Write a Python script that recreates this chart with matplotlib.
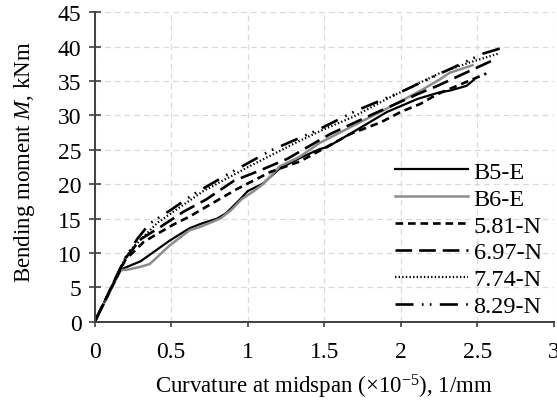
import matplotlib
matplotlib.use("Agg")
import matplotlib.pyplot as plt

plt.rcParams['font.family'] = ['Liberation Serif', 'DejaVu Serif']
plt.rcParams['mathtext.fontset'] = 'custom'
plt.rcParams['mathtext.rm'] = 'Liberation Serif'
plt.rcParams['mathtext.it'] = 'Liberation Serif:italic'
plt.rcParams['lines.scale_dashes'] = False

# Data (curvature x1e-5 1/mm, moment kNm)
b5_x = [0, 0.17, 0.30, 0.49, 0.62, 0.70, 0.80, 0.86, 0.95, 1.00, 1.10, 1.21, 1.34, 1.47, 1.52, 1.69, 1.91, 2.11, 2.26, 2.32, 2.43, 2.48]
b5_y = [0, 7.6, 8.8, 11.8, 13.6, 14.3, 15.0, 15.8, 17.8, 19.0, 20.1, 22.3, 23.8, 25.1, 25.4, 27.6, 30.5, 32.4, 33.4, 33.6, 34.3, 35.2]

b6_x = [0, 0.17, 0.22, 0.30, 0.36, 0.49, 0.62, 0.69, 0.82, 0.89, 0.96, 1.04, 1.10, 1.21, 1.34, 1.47, 1.69, 1.91, 2.13, 2.26, 2.32, 2.47]
b6_y = [0, 7.5, 7.6, 8.0, 8.4, 11.1, 13.3, 13.8, 15.0, 16.2, 17.8, 19.0, 20.0, 22.6, 24.0, 26.0, 28.5, 31.0, 33.6, 35.3, 36.2, 37.3]

n581_x = [0, 0.20, 0.32, 0.41, 0.52, 0.62, 0.72, 0.93, 1.15, 1.34, 1.49, 1.67, 1.87, 2.00, 2.13, 2.24, 2.56]
n581_y = [0, 9.0, 11.6, 12.8, 14.2, 15.3, 16.6, 19.3, 21.8, 23.3, 25.1, 27.3, 29.0, 30.5, 31.7, 33.1, 36.1]

n697_x = [0, 0.20, 0.30, 0.43, 0.58, 0.73, 0.91, 1.08, 1.26, 1.43, 1.54, 1.78, 2.11, 2.24, 2.62]
n697_y = [0, 9.2, 12.0, 13.8, 16.0, 17.8, 20.5, 22.0, 23.7, 25.9, 27.3, 29.8, 33.1, 34.3, 38.2]

n774_x = [0, 0.20, 0.25, 0.41, 0.54, 0.71, 1.02, 1.32, 1.50, 1.69, 1.91, 2.13, 2.26, 2.45, 2.64]
n774_y = [0, 9.3, 10.8, 14.4, 16.4, 19.0, 22.7, 26.1, 28.0, 29.8, 32.4, 34.8, 36.2, 37.7, 39.0]

n829_x = [0, 0.20, 0.28, 0.36, 0.50, 0.65, 0.85, 1.15, 1.45, 1.71, 2.00, 2.25, 2.54, 2.66]
n829_y = [0, 9.3, 12.1, 14.3, 16.3, 18.6, 21.2, 24.9, 27.8, 30.7, 33.4, 36.0, 39.0, 39.8]

labels = ['B5-E', 'B6-E', '5.81-N', '6.97-N', '7.74-N', '8.29-N']
xticks = [0, 0.5, 1, 1.5, 2, 2.5, 3]
xticklabels = ['0', '0.5', '1', '1.5', '2', '2.5', '3']
yticks = list(range(0, 46, 5))

fig = plt.figure(figsize=(5.57, 4.02), dpi=100)
ax = fig.add_axes([0.170, 0.197, 0.824, 0.770])

ax.plot(b5_x, b5_y, color='black', lw=1.6, label=labels[0])
ax.plot(b6_x, b6_y, color='#8c8c8c', lw=1.8, label=labels[1])
ax.plot(n581_x, n581_y, color='black', lw=1.9, dashes=(5.5, 3.5), label=labels[2])
ax.plot(n697_x, n697_y, color='black', lw=1.9, dashes=(12, 5), label=labels[3])
ax.plot(n774_x, n774_y, color='black', lw=1.6, dashes=(1.0, 1.6), label=labels[4])
ax.plot(n829_x, n829_y, color='black', lw=1.9, dashes=(13, 6, 1.2, 4.5, 1.2, 6), label=labels[5])

ax.set_xlim(0, 3)
ax.set_ylim(0, 45)
ax.set_xticks(xticks)
ax.set_xticklabels(xticklabels)
ax.set_yticks(yticks)

ax.grid(True, color='#d9d9d9', linestyle=(0, (4, 3)), lw=0.9)
ax.set_axisbelow(True)
for s in ['top', 'right']:
    ax.spines[s].set_visible(False)
for s in ['left', 'bottom']:
    ax.spines[s].set_color('#404040')
    ax.spines[s].set_linewidth(1.4)

ax.tick_params(axis='y', direction='inout', length=9, width=1.2, color='#404040', labelsize=17, pad=5)
ax.tick_params(axis='x', direction='out', length=3.5, width=1.2, color='#404040', labelsize=17, pad=10)

ax.set_xlabel(r'Curvature at midspan ($\times$10$^{\mathregular{-5}}$), 1/mm', fontsize=16.5)
ax.set_ylabel(r'Bending moment $M$, kNm', fontsize=16.5)
ax.xaxis.set_label_coords(0.5, -0.163)
ax.yaxis.set_label_coords(-0.125, 0.52)

leg = ax.legend(loc='lower right', bbox_to_anchor=(1.006, -0.032), frameon=False, fontsize=17.5,
                handlelength=3.0, handletextpad=0.25, labelspacing=0.2, borderaxespad=0.2)

fig.savefig('out.png', dpi=100)
